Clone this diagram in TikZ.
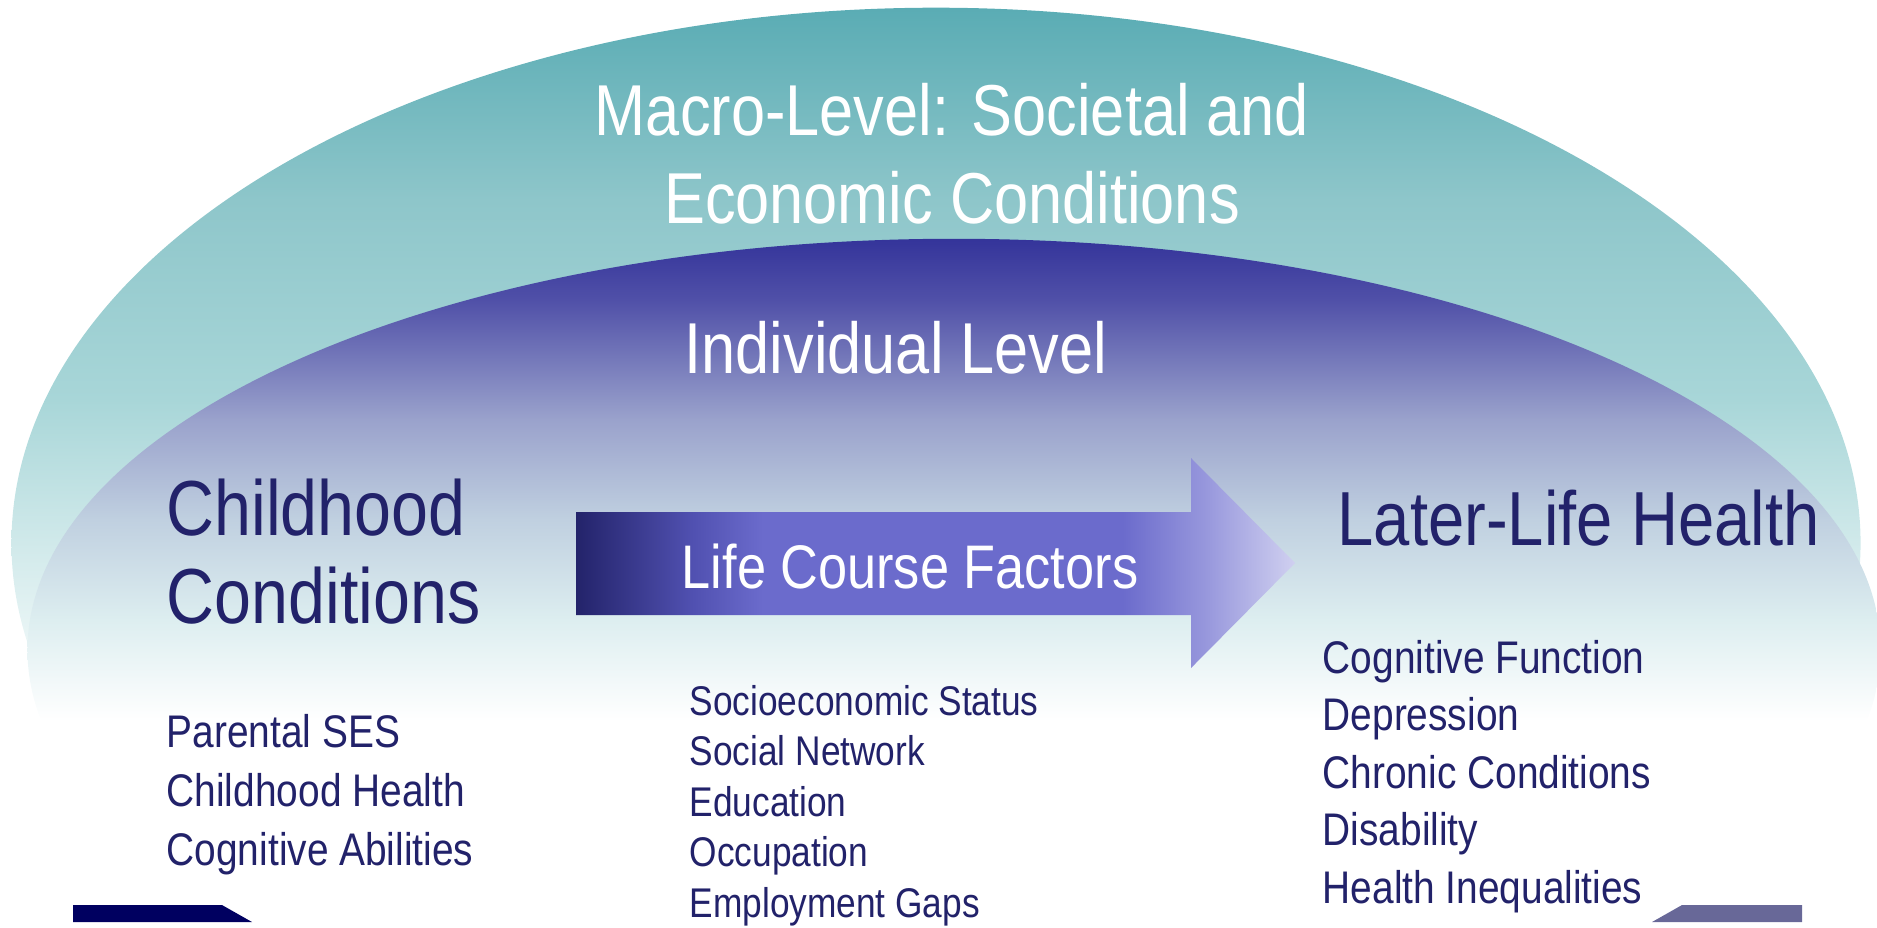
\documentclass[tikz,border=0pt]{standalone}
\usepackage{fontspec}
\setmainfont{Liberation Sans}[FakeStretch=0.85]

\definecolor{navy}{HTML}{22226A}
\definecolor{macroA}{HTML}{5AACB4}
\definecolor{macroB}{HTML}{8EC6CA}
\definecolor{macroC}{HTML}{A8D6D8}
\definecolor{macroD}{HTML}{D2EAEB}
\definecolor{indivA}{HTML}{34349A}
\definecolor{indivB}{HTML}{5050A8}
\definecolor{indivC}{HTML}{9AA2CC}
\definecolor{indivD}{HTML}{C0D0E0}
\definecolor{indivE}{HTML}{DDEEF0}
\definecolor{arrowA}{HTML}{23236A}
\definecolor{arrowB}{HTML}{5050B0}
\definecolor{arrowC}{HTML}{6B6BCC}
\definecolor{arrowD}{HTML}{9999DD}
\definecolor{arrowE}{HTML}{D0D0F0}
\definecolor{barleft}{HTML}{000060}
\definecolor{barright}{HTML}{686898}

% the path always fills the 25bp--75bp part of a shading
\pgfdeclareverticalshading{macroshade}{100bp}{color(0bp)=(white); color(41.7bp)=(white);
  color(49.7bp)=(macroD); color(56.7bp)=(macroC); color(66bp)=(macroB); color(75bp)=(macroA); color(100bp)=(macroA)}
\pgfdeclareverticalshading{indivshade}{100bp}{color(0bp)=(white); color(45.7bp)=(white);
  color(51.8bp)=(indivE); color(57.9bp)=(indivD); color(64bp)=(indivC); color(71.3bp)=(indivB); color(75bp)=(indivA); color(100bp)=(indivA)}
\pgfdeclarehorizontalshading{arrowshade}{100bp}{color(0bp)=(arrowA); color(25bp)=(arrowA);
  color(33bp)=(arrowB); color(38bp)=(arrowC); color(63bp)=(arrowC); color(69bp)=(arrowD); color(75bp)=(arrowE); color(100bp)=(arrowE)}

\begin{document}
\begin{tikzpicture}[x=0.01cm, y=-0.01cm,
    title/.style={text=white, inner sep=0, anchor=base, font=\fontsize{20.5}{24}\selectfont},
    heading/.style={text=navy, inner sep=0, anchor=base west, font=\fontsize{22.2}{26}\selectfont},
    item/.style={text=navy, inner sep=0, anchor=base west, font=\fontsize{13}{16}\selectfont},
    factor/.style={text=navy, inner sep=0, anchor=base west, font=\fontsize{11.8}{14}\selectfont}]
\useasboundingbox (0,0) rectangle (1877,927);

% the two levels
\begin{scope}
  \clip (0,0) rectangle (1877,927);
  \shade[shading=macroshade] (936,543) ellipse [x radius=9.24cm, y radius=5.35cm];
  \shade[shading=indivshade] (954,650) ellipse [x radius=9.26cm, y radius=4.11cm];
\end{scope}

\node[title] (macro) at (952,135) {Macro-Level: Societal and};
\node[title] (econ) at (952,223) {Economic Conditions};
\node[title] (indiv) at (896,373) {Individual Level};

% life course arrow
\shade[shading=arrowshade] (576,512) -- (1191,512) -- (1191,458) -- (1295,563)
    -- (1191,668) -- (1191,615) -- (576,615) -- cycle;
\node[title, font=\fontsize{17.5}{20}\selectfont] (course) at (910,588) {Life Course Factors};

\node[heading] (child) at (166,535) {Childhood};
\node[heading] (cond) at (166,623) {Conditions};
\node[heading, font=\fontsize{21.8}{26}\selectfont] (later) at (1337,545) {Later-Life Health};

\foreach \t [count=\i] in {Parental SES, Childhood Health, Cognitive Abilities}
    \node[item] (child\i) at (166,{747+59*(\i-1)}) {\t};
\foreach \t [count=\i] in {Socioeconomic Status, Social Network, Education, Occupation, Employment Gaps}
    \node[factor] (factor\i) at (689,{715+50.5*(\i-1)}) {\t};
\foreach \t [count=\i] in {Cognitive Function, Depression, Chronic Conditions, Disability, Health Inequalities}
    \node[item] (health\i) at (1322,{673+57.5*(\i-1)}) {\t};

% bars at the bottom
\fill[barleft] (73,905) -- (222,905) -- (252,922) -- (73,922) -- cycle;
\fill[barright] (1682,905) -- (1802,905) -- (1802,922) -- (1652,922) -- cycle;
\end{tikzpicture}
\end{document}
